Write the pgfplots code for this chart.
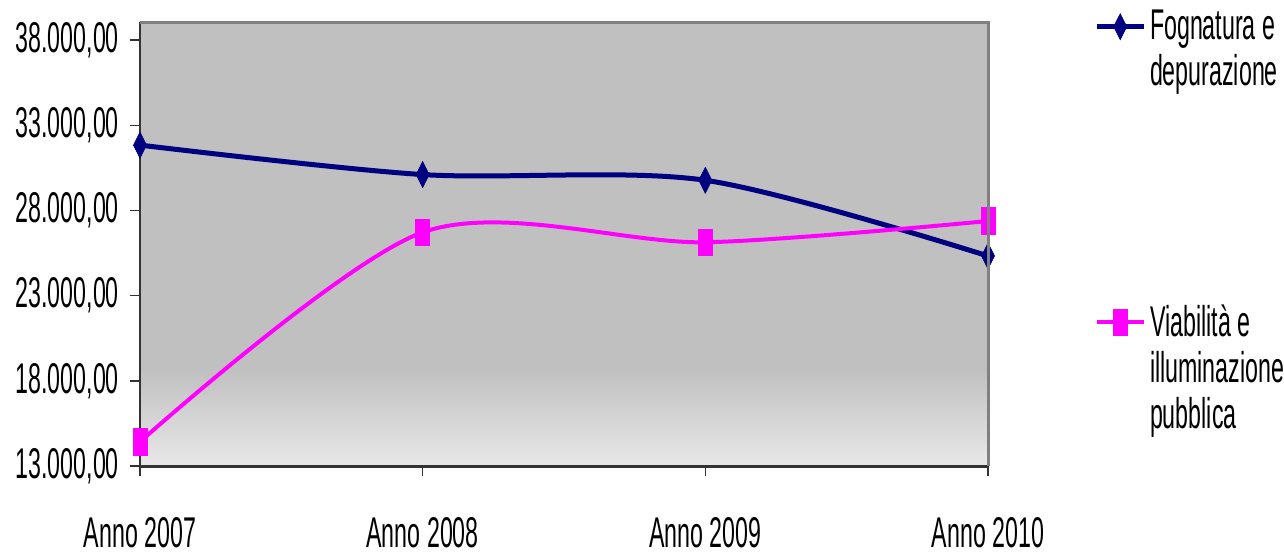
\documentclass[border=0pt]{standalone}
\usepackage{fontspec}
\setmainfont{Liberation Sans}[FakeStretch=0.54]
\usepackage{pgfplots}
\pgfplotsset{compat=1.18}
\definecolor{navy}{RGB}{0,0,128}
\definecolor{fuchsia}{RGB}{255,0,255}
\definecolor{bgtop}{RGB}{192,192,192}
\definecolor{bgbot}{RGB}{232,232,232}
\pgfdeclareverticalshading{plotbg}{100bp}{color(0bp)=(bgbot); color(25bp)=(bgbot); color(36bp)=(bgtop); color(100bp)=(bgtop)}
\newcommand{\lbl}{\fontsize{21.5}{23}\selectfont}

\begin{document}
\begin{tikzpicture}
\path[use as bounding box] (-70pt,-46.5pt) rectangle (572pt,233pt);
\begin{axis}[
  name=ax, at={(0,0)}, anchor=south west,
  scale only axis, width=424pt, height=222pt,
  xmin=0, xmax=3, ymin=13000, ymax=39060,
  xtick={0,1,2,3},
  xticklabels={Anno 2007,Anno 2008,Anno 2009,Anno 2010},
  ytick={13000,18000,23000,28000,33000,38000},
  scaled y ticks=false,
  axis x line*=bottom, axis y line*=left,
  x axis line style={line width=1.5pt, black!80},
  y axis line style={line width=0.75pt, black!80},
  tick style={black!80, line width=0.75pt},
  tick align=outside, major tick length=5pt,
  yticklabel style={font=\lbl, xshift=-2pt},
  xticklabel style={font=\lbl, yshift=-17pt},
  /pgf/number format/.cd, fixed, fixed zerofill, precision=2,
    1000 sep={.}, dec sep={,}, assume math mode=true,
  /pgfplots/.cd,
  axis background/.style={shade, shading=plotbg},
  clip=false,
  legend style={at={(1,1)}, anchor=north west, xshift=50pt, yshift=10pt,
    draw=none, fill=none, font=\lbl, row sep=127pt},
  legend cell align=left,
  legend image code/.code={
    \draw[mark repeat=2, mark phase=2] plot coordinates {(0cm,0cm) (0.41cm,0cm) (0.82cm,0cm)};
  },
  after end axis/.code={
    \draw[gray, line width=1.5pt] (rel axis cs:0,1) -- (rel axis cs:1,1) -- (rel axis cs:1,0);
  },
]
\addplot[navy, line width=2.5pt, smooth, tension=0.5,
  mark=diamond*, mark size=6.5pt,
  mark options={solid, xscale=0.67, fill=navy, draw=navy, line width=0.3pt}]
  coordinates {(0,31835) (1,30105) (2,29771) (3,25328)};
\addlegendentry{\parbox[t]{80pt}{\raggedright Fognatura e\\depurazione}}
\addplot[fuchsia, line width=2pt, smooth, tension=0.5,
  mark=square*, mark size=6.7pt,
  mark options={solid, xscale=0.52, fill=fuchsia, draw=fuchsia, line width=0.3pt}]
  coordinates {(0,14424) (1,26717) (2,26131) (3,27380)};
\addlegendentry{\parbox[t]{80pt}{\raggedright Viabilità e\\illuminazione\\pubblica}}
\end{axis}
\end{tikzpicture}
\end{document}
